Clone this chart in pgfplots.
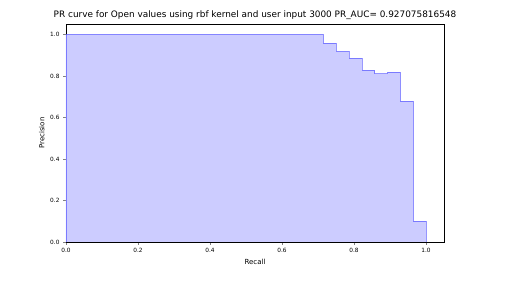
\documentclass[border=0pt]{standalone}
\usepackage{pgfplots}
\pgfplotsset{compat=1.18}
\usepackage{fontspec}
\setmainfont{DejaVu Sans}
\definecolor{fillb}{rgb}{0.8,0.8,1}
\begin{document}
\begin{tikzpicture}
\begin{axis}[
  at={(0,0)}, anchor=south west,
  scale only axis, width=378pt, height=218pt,
  xmin=0, xmax=1.05, ymin=0, ymax=1.05,
  xtick={0,0.2,0.4,0.6,0.8,1.0},
  ytick={0,0.2,0.4,0.6,0.8,1.0},
  /pgf/number format/.cd, fixed, fixed zerofill, precision=1, assume math mode=true,
  /pgfplots/.cd,
  tick align=outside, tick pos=left,
  major tick length=3pt,
  tick label style={font=\fontsize{5.8}{6}\selectfont},
  xlabel={Recall}, ylabel={Precision},
  label style={font=\fontsize{7}{8}\selectfont},
  xlabel style={yshift=1pt},
  ylabel style={yshift=-1pt},
  title={PR curve for Open values using rbf kernel and user input 3000 PR\_AUC= 0.927075816548},
  title style={font=\fontsize{8.9}{9}\selectfont, yshift=-5pt},
  axis line style={black, line width=0.6pt},
]
\addplot[const plot, draw=blue, draw opacity=0.4, fill=fillb, line width=0.8pt] coordinates {
(0,1.0) (0.715,0.958) (0.750,0.918) (0.786,0.886) (0.822,0.828) (0.858,0.810) (0.893,0.818) (0.929,0.678) (0.965,0.100) (1.0,0.100) (1.0,0)
} \closedcycle;
\end{axis}
\path[use as bounding box] (-66pt,-41pt) rectangle (442pt,242pt);
\end{tikzpicture}
\end{document}
